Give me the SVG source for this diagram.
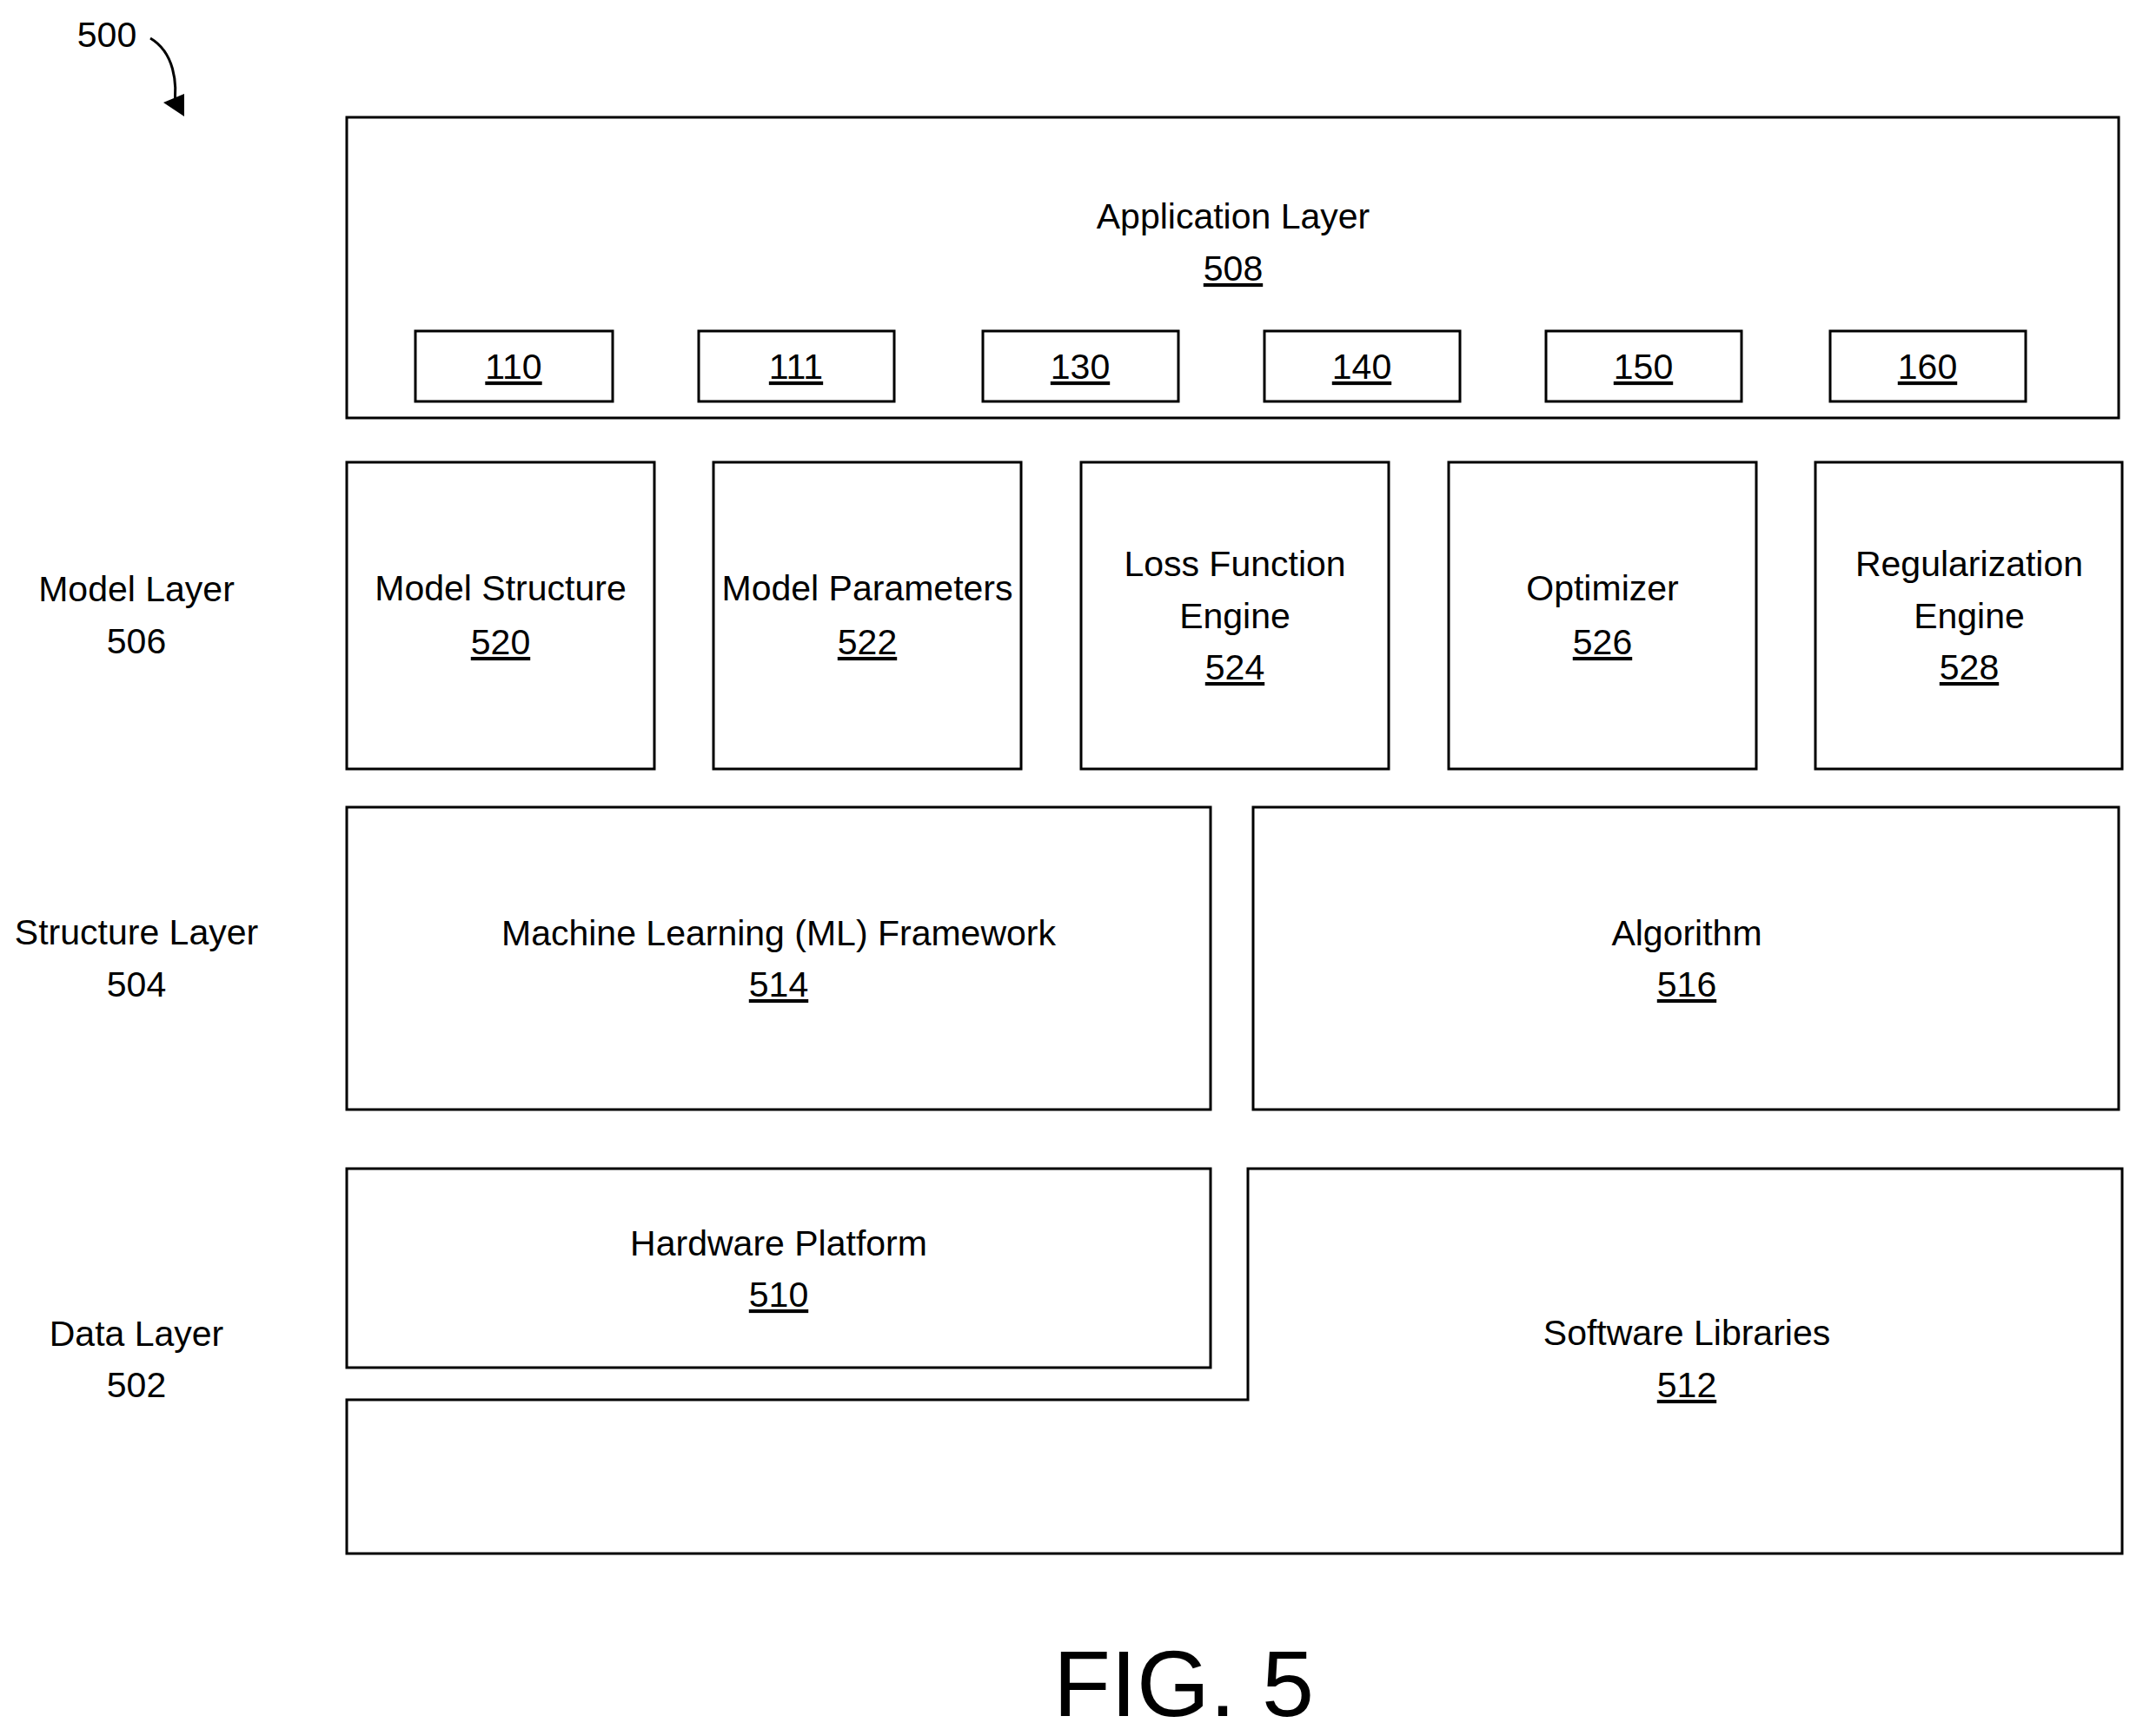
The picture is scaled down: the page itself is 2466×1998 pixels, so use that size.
<svg xmlns="http://www.w3.org/2000/svg" width="2466" height="1998" viewBox="0 0 2466 1998">
<style>
rect,path.b{fill:none;stroke:#000;stroke-width:3}
text{font-family:"Liberation Sans",Arial,sans-serif;font-size:41px;text-anchor:middle;fill:#000}
.u{text-decoration:underline}
</style>
<rect x="0" y="0" width="2466" height="1998" style="fill:#fff;stroke:none"/>
<g id="label500"><text x="123" y="54">500</text></g>
<g id="connectors"><path d="M173,44 C200,60 205,95 200,125" fill="none" stroke="#000" stroke-width="3"/><path d="M188,118 L212,134 L212,108 Z" fill="#000"/></g>
<g id="app"><rect x="399" y="135" width="2039" height="346"/><text x="1419" y="263">Application Layer</text><text x="1419" y="323" class="u">508</text></g>
<g id="n110"><rect x="478" y="381" width="227" height="81"/><text x="591" y="436" class="u">110</text></g>
<g id="n111"><rect x="804" y="381" width="225" height="81"/><text x="916" y="436" class="u">111</text></g>
<g id="n130"><rect x="1131" y="381" width="225" height="81"/><text x="1243" y="436" class="u">130</text></g>
<g id="n140"><rect x="1455" y="381" width="225" height="81"/><text x="1567" y="436" class="u">140</text></g>
<g id="n150"><rect x="1779" y="381" width="225" height="81"/><text x="1891" y="436" class="u">150</text></g>
<g id="n160"><rect x="2106" y="381" width="225" height="81"/><text x="2218" y="436" class="u">160</text></g>
<g id="labels"><text x="157" y="692">Model Layer</text><text x="157" y="752">506</text>
<text x="157" y="1087">Structure Layer</text><text x="157" y="1147">504</text>
<text x="157" y="1549">Data Layer</text><text x="157" y="1608">502</text></g>
<g id="n520"><rect x="399" y="532" width="354" height="353"/><text x="576" y="691">Model Structure</text><text x="576" y="753" class="u">520</text></g>
<g id="n522"><rect x="821" y="532" width="354" height="353"/><text x="998" y="691">Model Parameters</text><text x="998" y="753" class="u">522</text></g>
<g id="n524"><rect x="1244" y="532" width="354" height="353"/><text x="1421" y="663">Loss Function</text><text x="1421" y="723">Engine</text><text x="1421" y="782" class="u">524</text></g>
<g id="n526"><rect x="1667" y="532" width="354" height="353"/><text x="1844" y="691">Optimizer</text><text x="1844" y="753" class="u">526</text></g>
<g id="n528"><rect x="2089" y="532" width="353" height="353"/><text x="2266" y="663">Regularization</text><text x="2266" y="723">Engine</text><text x="2266" y="782" class="u">528</text></g>
<g id="n514"><rect x="399" y="929" width="994" height="348"/><text x="896" y="1088">Machine Learning (ML) Framework</text><text x="896" y="1147" class="u">514</text></g>
<g id="n516"><rect x="1442" y="929" width="996" height="348"/><text x="1941" y="1088">Algorithm</text><text x="1941" y="1147" class="u">516</text></g>
<g id="n510"><rect x="399" y="1345" width="994" height="229"/><text x="896" y="1445">Hardware Platform</text><text x="896" y="1504" class="u">510</text></g>
<g id="n512"><path class="b" d="M1436,1345 L2442,1345 L2442,1788 L399,1788 L399,1611 L1436,1611 Z"/><text x="1941" y="1548">Software Libraries</text><text x="1941" y="1608" class="u">512</text></g>
<g id="fig"><text x="1362" y="1975" style="font-size:108px">FIG. 5</text></g>
</svg>
